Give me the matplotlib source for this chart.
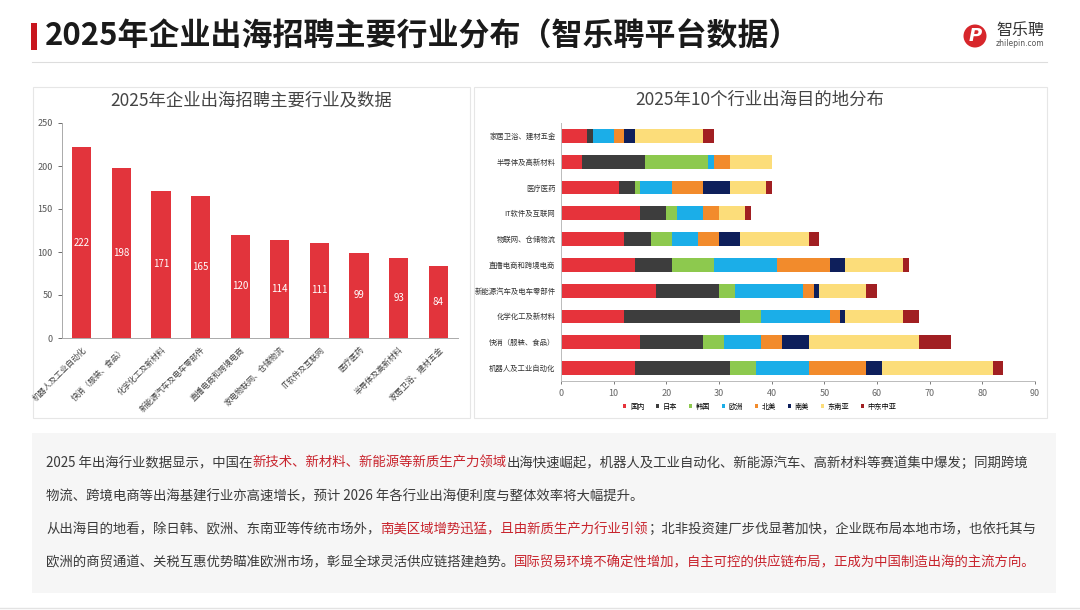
import numpy as np
import matplotlib
matplotlib.use('Agg')
import matplotlib.pyplot as plt
from matplotlib.patches import Rectangle, Ellipse

plt.rcParams['font.family'] = ['Noto Sans CJK SC', 'DejaVu Sans']
plt.rcParams['axes.unicode_minus'] = False

# left chart data
industries = ['机器人及工业自动化', '快消（服装、食品）', '化学化工及新材料', '新能源汽车及电车零部件',
              '直播电商和跨境电商', '家电物联网、仓储物流', 'IT软件及互联网', '医疗医药',
              '半导体及高新材料', '家居卫浴、建材五金']
counts = [222, 198, 171, 165, 120, 114, 111, 99, 93, 84]

# right chart data (bottom to top)
rows = ['机器人及工业自动化', '快消（服装、食品）', '化学化工及新材料', '新能源汽车及电车零部件',
        '直播电商和跨境电商', '物联网、仓储物流', 'IT软件及互联网', '医疗医药',
        '半导体及高新材料', '家居卫浴、建材五金']
regions = ['国内', '日本', '韩国', '欧洲', '北美', '南美', '东南亚', '中东中亚']
guonei = [14, 15, 12, 18, 14, 12, 15, 11, 4, 5]
riben = [18, 12, 22, 12, 7, 5, 5, 3, 12, 1]
hanguo = [5, 4, 4, 3, 8, 4, 2, 1, 12, 0]
ouzhou = [10, 7, 13, 13, 12, 5, 5, 6, 1, 4]
beimei = [11, 4, 2, 2, 10, 4, 3, 6, 3, 2]
nanmei = [3, 5, 1, 1, 3, 4, 0, 5, 0, 2]
dongnanya = [21, 21, 11, 9, 11, 13, 5, 7, 8, 13]
zhongdong = [2, 6, 3, 2, 1, 2, 1, 1, 0, 2]
region_colors = ['#E6333B', '#3D3D3D', '#8DC94E', '#1BAEE8', '#F28B2C', '#0E1F5B', '#FCDD7A', '#A11F22']

W, H = 1080, 610
fig = plt.figure(figsize=(W / 100, H / 100), dpi=100)
fig.patch.set_facecolor('white')


def fx(px):
    return px / W


def fy(py):
    return 1 - py / H


def box(x0, y0, x1, y1, fc, ec='none', lw=0.8):
    fig.patches.append(Rectangle((fx(x0), fy(y1)), fx(x1 - x0), (y1 - y0) / H,
                                 transform=fig.transFigure, facecolor=fc,
                                 edgecolor=ec, linewidth=lw, zorder=-10))


# header
box(31, 23, 37, 50, '#C8161E')
fig.text(fx(45), fy(37), '2025年企业出海招聘主要行业分布（智乐聘平台数据）',
         fontsize=22.3, fontweight='bold', color='#1A1A1A', va='center', ha='left')
fig.add_artist(plt.Line2D([fx(32), fx(1047)], [fy(62), fy(62)], color='#DDDDDD', lw=0.8))

# logo
fig.patches.append(Ellipse((fx(975), fy(36)), fx(23), 23 / H, transform=fig.transFigure,
                           facecolor='#D7262B', edgecolor='none'))
fig.text(fx(975), fy(36), 'P', fontsize=13, fontweight='bold', fontstyle='italic',
         color='white', ha='center', va='center', family=['DejaVu Sans'])
fig.text(fx(996), fy(31), '智乐聘', fontsize=11.5, color='#333333', ha='left', va='center')
fig.text(fx(996), fy(44), 'zhilepin.com', fontsize=5.5, color='#555555', ha='left', va='center',
         family=['DejaVu Sans'])

# panels
box(33, 87, 470, 418, 'white', '#E6E6E6')
box(474, 87, 1047, 418, 'white', '#E6E6E6')
box(32, 433, 1056, 593, '#F6F6F6')

# left chart
ax1 = fig.add_axes([fx(62), fy(338), fx(396), 215 / H])
ax1.patch.set_alpha(0)
x = np.arange(len(industries))
ax1.bar(x, counts, width=0.48, color='#E2343C')
for xi, v in zip(x, counts):
    ax1.text(xi, v / 2, str(v), color='white', fontsize=7, ha='center', va='center')
ax1.set_ylim(0, 250)
ax1.set_xlim(-0.5, len(industries) - 0.5)
ax1.set_yticks(range(0, 251, 50))
ax1.set_xticks(x)
ax1.set_xticklabels(industries, rotation=45, ha='right', rotation_mode='anchor',
                    fontsize=5.8, color='#444444')
ax1.tick_params(axis='y', labelsize=6.5, colors='#555555', length=3, width=0.6)
ax1.tick_params(axis='x', length=0, pad=5)
for s in ['top', 'right']:
    ax1.spines[s].set_visible(False)
for s in ['left', 'bottom']:
    ax1.spines[s].set_color('#AAAAAA')
    ax1.spines[s].set_linewidth(0.7)
fig.text(fx(251), fy(100), '2025年企业出海招聘主要行业及数据', fontsize=12.5, color='#444444',
         ha='center', va='center')

# right chart
ax2 = fig.add_axes([fx(561), fy(381), fx(474), 258 / H])
ax2.patch.set_alpha(0)
y = np.arange(len(rows))
series = [guonei, riben, hanguo, ouzhou, beimei, nanmei, dongnanya, zhongdong]
left = np.zeros(len(rows))
handles = []
for vals, name, c in zip(series, regions, region_colors):
    h = ax2.barh(y, vals, left=left, height=0.54, color=c, label=name)
    handles.append(h)
    left += np.array(vals)
ax2.set_xlim(0, 90)
ax2.set_ylim(-0.5, len(rows) - 0.5)
ax2.set_xticks(range(0, 91, 10))
ax2.set_yticks(y)
ax2.set_yticklabels(rows, fontsize=5.3, color='#333333')
ax2.tick_params(axis='y', length=0, pad=4)
ax2.tick_params(axis='x', labelsize=6.5, colors='#666666', length=2.5, width=0.6)
for s in ['top', 'right']:
    ax2.spines[s].set_visible(False)
for s in ['left', 'bottom']:
    ax2.spines[s].set_color('#BBBBBB')
    ax2.spines[s].set_linewidth(0.7)
ax2.legend(handles=handles, loc='center', bbox_to_anchor=(fx(760), fy(407)),
           bbox_transform=fig.transFigure, ncol=8, frameon=False, fontsize=5.2,
           handlelength=0.45, handleheight=0.45, handletextpad=0.5, columnspacing=1.6)
fig.text(fx(760), fy(100), '2025年10个行业出海目的地分布', fontsize=12.5, color='#444444',
         ha='center', va='center')

# bottom text
dark = '#3A3A3A'
red = '#C8232C'
lines = [
    [('2025 年出海行业数据显示，中国在', dark), ('新技术、新材料、新能源等新质生产力领域', red),
     ('出海快速崛起，机器人及工业自动化、新能源汽车、高新材料等赛道集中爆发；同期跨境', dark)],
    [('物流、跨境电商等出海基建行业亦高速增长，预计 2026 年各行业出海便利度与整体效率将大幅提升。', dark)],
    [('从出海目的地看，除日韩、欧洲、东南亚等传统市场外，', dark), ('南美区域增势迅猛，且由新质生产力行业引领', red),
     ('；北非投资建厂步伐显著加快，企业既布局本地市场，也依托其与', dark)],
    [('欧洲的商贸通道、关税互惠优势瞄准欧洲市场，彰显全球灵活供应链搭建趋势。', dark),
     ('国际贸易环境不确定性增加，自主可控的供应链布局，正成为中国制造出海的主流方向。', red)],
]
line_y = [463, 496, 529, 562]
renderer = fig.canvas.get_renderer()
for parts, ly in zip(lines, line_y):
    cx = fx(46)
    for s, c in parts:
        t = fig.text(cx, fy(ly), s, color=c, fontsize=9.65, ha='left', va='center')
        cx += t.get_window_extent(renderer=renderer).width / fig.bbox.width

fig.add_artist(plt.Line2D([0, 1], [fy(608), fy(608)], color='#E3E3E3', lw=1))

plt.savefig('out.png', dpi=100)
